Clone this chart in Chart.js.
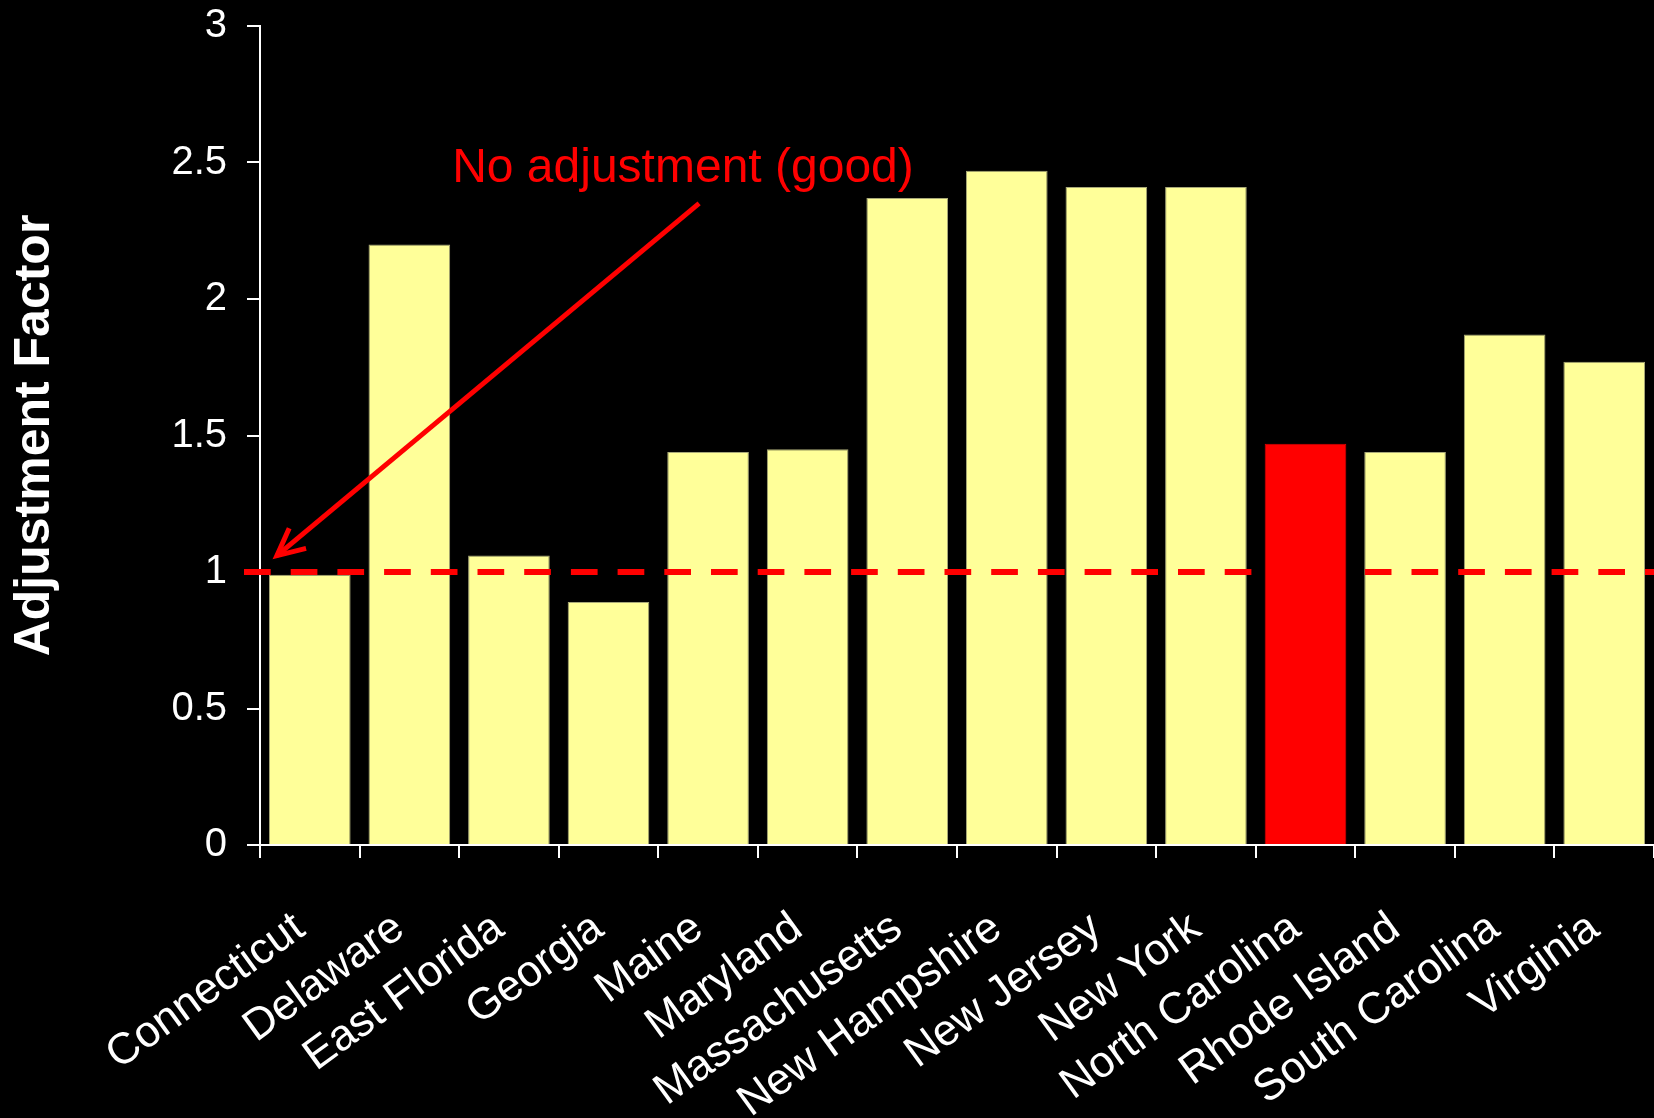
<!DOCTYPE html>
<html>
<head>
<meta charset="utf-8">
<script src="https://cdn.jsdelivr.net/npm/chart.js@4.4.1/dist/chart.umd.min.js"></script>
<style>
  html, body { margin: 0; padding: 0; background: #000; }
  canvas { display: block; }
</style>
</head>
<body>
<canvas id="chart" width="1654" height="1118"></canvas>
<script>
// data
const states = ['Connecticut', 'Delaware', 'East Florida', 'Georgia', 'Maine', 'Maryland',
  'Massachusetts', 'New Hampshire', 'New Jersey', 'New York', 'North Carolina',
  'Rhode Island', 'South Carolina', 'Virginia'];
const factors = [0.99, 2.20, 1.06, 0.89, 1.44, 1.45, 2.37, 2.47, 2.41, 2.41, 1.47, 1.44, 1.87, 1.77];
const yTicks = [0, 0.5, 1, 1.5, 2, 2.5, 3];
const highlight = 'North Carolina';
const refValue = 1;
const noteText = 'No adjustment (good)';
// annotation anchors in data units: [category index, factor]
const notePos = [1.43, 2.43];
const arrowFrom = [3.91, 2.35];
const arrowTo = [-0.33, 1.06];

const FONT = '"Liberation Sans", Arial, Helvetica, sans-serif';
const YELLOW = '#ffff99';
const RED = '#ff0000';

const barColors = states.map(s => s === highlight ? RED : YELLOW);
const barBorders = states.map(s => s === highlight ? '#e00000' : '#a8a878');

// dashed reference line, the arrow and the note
const annotations = {
  id: 'annotations',
  afterDatasetsDraw(chart) {
    const ctx = chart.ctx;
    const x = chart.scales.x;
    const y = chart.scales.y;
    const area = chart.chartArea;

    // reference line at 1, hidden behind the highlighted category
    const hi = states.indexOf(highlight);
    const gapL = x.getPixelForValue(hi - 0.5);
    const gapR = x.getPixelForValue(hi + 0.5);
    const ry = y.getPixelForValue(refValue);
    ctx.save();
    ctx.beginPath();
    ctx.rect(0, 0, gapL, chart.height);
    ctx.rect(gapR, 0, chart.width - gapR, chart.height);
    ctx.clip();
    ctx.strokeStyle = RED;
    ctx.lineWidth = 6;
    ctx.setLineDash([26.7, 20]);
    ctx.beginPath();
    ctx.moveTo(area.left - 16, ry);
    ctx.lineTo(area.right, ry);
    ctx.stroke();
    ctx.restore();

    // arrow
    const x1 = x.getPixelForValue(arrowFrom[0]), y1 = y.getPixelForValue(arrowFrom[1]);
    const x2 = x.getPixelForValue(arrowTo[0]), y2 = y.getPixelForValue(arrowTo[1]);
    const ang = Math.atan2(y1 - y2, x1 - x2);
    const head = 30, spread = 26 * Math.PI / 180;
    ctx.save();
    ctx.strokeStyle = RED;
    ctx.lineWidth = 5;
    ctx.lineJoin = 'miter';
    ctx.beginPath();
    ctx.moveTo(x1, y1);
    ctx.lineTo(x2, y2);
    ctx.stroke();
    ctx.beginPath();
    ctx.moveTo(x2 + head * Math.cos(ang + spread), y2 + head * Math.sin(ang + spread));
    ctx.lineTo(x2, y2);
    ctx.lineTo(x2 + head * Math.cos(ang - spread), y2 + head * Math.sin(ang - spread));
    ctx.stroke();

    // note
    ctx.fillStyle = RED;
    ctx.font = '48px ' + FONT;
    ctx.textAlign = 'left';
    ctx.textBaseline = 'alphabetic';
    ctx.fillText(noteText, x.getPixelForValue(notePos[0]), y.getPixelForValue(notePos[1]));
    ctx.restore();
  }
};

new Chart(document.getElementById('chart'), {
  type: 'bar',
  data: {
    labels: states,
    datasets: [{
      label: 'Adjustment Factor',
      data: factors,
      backgroundColor: barColors,
      borderColor: barBorders,
      borderWidth: 1,
      barPercentage: 0.82,
      categoryPercentage: 1.0
    }]
  },
  plugins: [annotations],
  options: {
    responsive: false,
    animation: false,
    layout: {
      padding: { top: 26, left: 0, right: 0, bottom: 0 }
    },
    plugins: {
      legend: { display: false },
      tooltip: { enabled: false }
    },
    scales: {
      x: {
        grid: {
          display: true,
          drawOnChartArea: false,
          drawTicks: true,
          tickLength: 13,
          color: '#ffffff',
          lineWidth: 2
        },
        border: { display: true, color: '#ffffff', width: 2 },
        ticks: {
          color: '#ffffff',
          font: { family: FONT, size: 44 },
          minRotation: 36,
          maxRotation: 36,
          autoSkip: false,
          padding: 37,
          // trailing space nudges the rotated label a little left of the tick, as in the original
          callback: (v, i) => states[i] + ' '
        },
        afterFit(scale) {
          scale.height = 273;
          scale.paddingLeft = 0;
          scale.paddingRight = 0;
        }
      },
      y: {
        min: 0,
        max: 3,
        afterBuildTicks(scale) {
          scale.ticks = yTicks.map(v => ({ value: v }));
        },
        grid: {
          display: true,
          drawOnChartArea: false,
          drawTicks: true,
          tickLength: 13,
          color: '#ffffff',
          lineWidth: 2
        },
        border: { display: true, color: '#ffffff', width: 2 },
        ticks: {
          color: '#ffffff',
          font: { family: FONT, size: 40 },
          padding: 20,
          callback: v => String(v)
        },
        title: {
          display: true,
          text: 'Adjustment Factor',
          color: '#ffffff',
          font: { family: FONT, size: 50, weight: 'bold' },
          padding: { top: 5, bottom: 0 }
        },
        afterFit(scale) {
          scale.width = 260;
          scale.paddingTop = 0;
          scale.paddingBottom = 0;
        }
      }
    }
  }
});
</script>
</body>
</html>
